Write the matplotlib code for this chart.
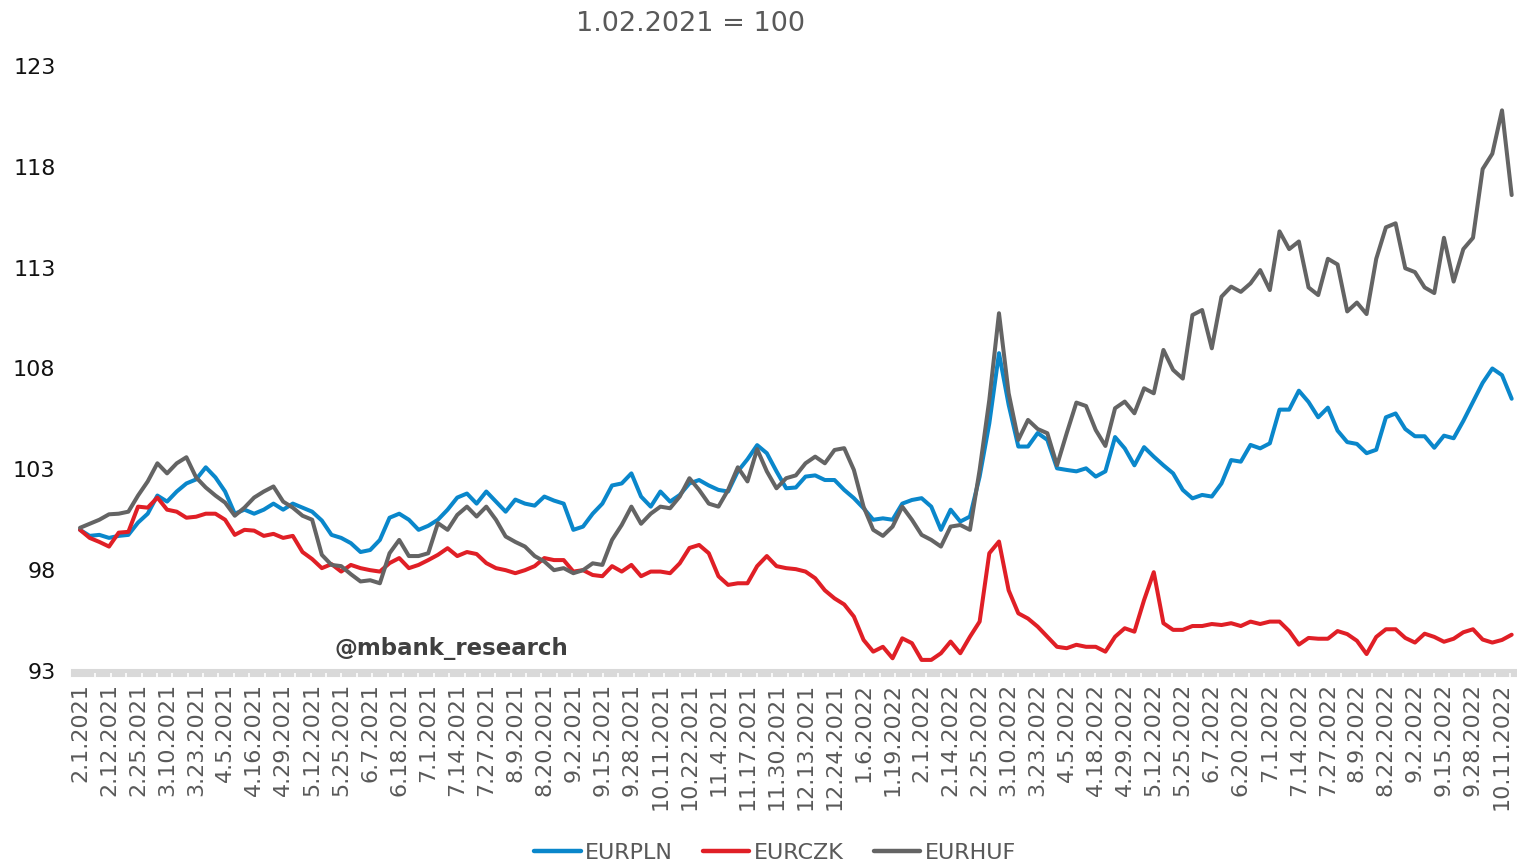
import numpy as np
import pandas as pd
import matplotlib
matplotlib.use("Agg")
import matplotlib.pyplot as plt
from matplotlib.ticker import FixedLocator

# ---------------- data (index 1.02.2021 = 100), sampled every 3rd business day ----------------
start_date = "2021-02-01"
n_days = 446
sample_step = 3
label_every = 9

eurpln = [
    100.0, 99.7, 99.75, 99.6, 99.7, 99.75, 100.36, 100.8, 101.7, 101.4,
    101.9, 102.3, 102.5, 103.1, 102.6, 101.9, 100.8, 101.0, 100.8, 101.0,
    101.3, 101.0, 101.3, 101.1, 100.9, 100.46, 99.75, 99.6, 99.34, 98.9,
    99.0, 99.5, 100.6, 100.8, 100.5, 100.0, 100.2, 100.5, 101.0, 101.6,
    101.8, 101.3, 101.9, 101.4, 100.9, 101.5, 101.3, 101.2, 101.65, 101.45,
    101.3, 100.0, 100.16, 100.8, 101.3, 102.2, 102.3, 102.8, 101.65, 101.15,
    101.9, 101.4, 101.73, 102.3, 102.47, 102.2, 101.98, 101.9, 102.9, 103.5,
    104.2, 103.8, 102.9, 102.06, 102.1, 102.64, 102.7, 102.47, 102.47, 101.98,
    101.57, 101.07, 100.5, 100.57, 100.5, 101.3, 101.48, 101.57, 101.15, 100.0,
    101.0, 100.41, 100.66, 102.64, 105.28, 108.76, 106.2, 104.13, 104.13, 104.8,
    104.46, 103.05, 102.97, 102.9, 103.05, 102.64, 102.9, 104.6, 104.04, 103.2,
    104.1, 103.63, 103.2, 102.8, 101.98, 101.56, 101.73, 101.65, 102.3, 103.46,
    103.38, 104.21, 104.04, 104.29, 105.96, 105.96, 106.9, 106.34, 105.58, 106.06,
    104.92, 104.35, 104.26, 103.8, 103.97, 105.58, 105.77, 105.0, 104.64, 104.64,
    104.07, 104.67, 104.54, 105.4, 106.34, 107.29, 108.0, 107.67, 106.5,
]

eurczk = [
    100.0, 99.6, 99.4, 99.17, 99.86, 99.9, 101.15, 101.1, 101.6, 101.0,
    100.9, 100.6, 100.65, 100.8, 100.8, 100.5, 99.75, 100.0, 99.96, 99.7,
    99.8, 99.6, 99.7, 98.9, 98.55, 98.1, 98.3, 97.93, 98.26, 98.1,
    98.0, 97.93, 98.35, 98.6, 98.1, 98.26, 98.5, 98.76, 99.09, 98.7,
    98.9, 98.8, 98.35, 98.1, 98.0, 97.85, 98.0, 98.2, 98.6, 98.5,
    98.5, 97.93, 98.0, 97.76, 97.7, 98.2, 97.93, 98.26, 97.7, 97.93,
    97.93, 97.85, 98.34, 99.1, 99.25, 98.84, 97.7, 97.27, 97.35, 97.35,
    98.2, 98.7, 98.2, 98.1, 98.05, 97.93, 97.6, 97.0, 96.6, 96.3,
    95.7, 94.54, 93.96, 94.2, 93.63, 94.62, 94.38, 93.55, 93.55, 93.88,
    94.46, 93.88, 94.7, 95.45, 98.84, 99.42, 97.0, 95.86, 95.6, 95.2,
    94.7, 94.2, 94.13, 94.3, 94.2, 94.2, 93.96, 94.7, 95.12, 94.95,
    96.52, 97.9, 95.37, 95.04, 95.04, 95.23, 95.23, 95.33, 95.28, 95.37,
    95.23, 95.45, 95.33, 95.45, 95.45, 94.98, 94.31, 94.64, 94.6, 94.6,
    94.98, 94.83, 94.5, 93.84, 94.69, 95.07, 95.07, 94.64, 94.41, 94.85,
    94.69, 94.45, 94.6, 94.92, 95.07, 94.56, 94.41, 94.54, 94.8,
]

eurhuf = [
    100.1, 100.3, 100.5, 100.77, 100.8, 100.9, 101.7, 102.4, 103.3, 102.8,
    103.3, 103.6, 102.6, 102.1, 101.7, 101.35, 100.7, 101.1, 101.6, 101.9,
    102.15, 101.4, 101.1, 100.7, 100.5, 98.76, 98.26, 98.2, 97.8, 97.44,
    97.5, 97.35, 98.84, 99.5, 98.7, 98.7, 98.84, 100.33, 100.0, 100.74,
    101.15, 100.66, 101.15, 100.5, 99.67, 99.4, 99.17, 98.7, 98.43, 98.0,
    98.1, 97.85, 98.0, 98.34, 98.26, 99.5, 100.24, 101.15, 100.3, 100.8,
    101.15, 101.07, 101.65, 102.56, 101.98, 101.3, 101.15, 101.98, 103.1, 102.4,
    104.0, 102.9, 102.06, 102.56, 102.7, 103.3, 103.63, 103.3, 103.96, 104.05,
    102.97, 101.15, 100.0, 99.7, 100.16, 101.15, 100.5, 99.75, 99.5, 99.17,
    100.16, 100.24, 100.0, 102.97, 106.44, 110.74, 106.77, 104.46, 105.45, 105.0,
    104.79, 103.2, 104.79, 106.31, 106.14, 104.95, 104.16, 106.03, 106.36, 105.78,
    107.02, 106.77, 108.92, 107.93, 107.5, 110.65, 110.9, 109.0, 111.56, 112.06,
    111.8, 112.22, 112.88, 111.89, 114.8, 113.92, 114.3, 112.02, 111.64, 113.44,
    113.16, 110.83, 111.27, 110.7, 113.44, 115.0, 115.2, 112.97, 112.78, 112.02,
    111.74, 114.48, 112.31, 113.92, 114.48, 117.89, 118.65, 120.8, 116.6,
]

series_names = ["EURPLN", "EURCZK", "EURHUF"]
series_colors = ["#0a87cb", "#e01f26", "#646464"]
y_ticks = [93, 98, 103, 108, 113, 118, 123]
title_text = "1.02.2021 = 100"
watermark = "@mbank_research"

# ---------------- derived axis categories ----------------
bdays = pd.bdate_range(start_date, periods=n_days)
day_pos = np.arange(n_days)
label_pos = day_pos[::label_every]
labels = [f"{d.month}.{d.day}.{d.year}" for d in bdays[::label_every]]

# ---------------- figure ----------------
W, H = 1517, 867
fig = plt.figure(figsize=(W / 100, H / 100), dpi=100)
ax = fig.add_axes([75 / W, 1 - 671 / H, (W - 75) / W, (671 - 66) / H])

for vals, name, col in zip([eurpln, eurczk, eurhuf], series_names, series_colors):
    x = day_pos[::sample_step][: len(vals)]
    ax.plot(x, vals, color=col, lw=2.9, label=name, solid_joinstyle="round",
            solid_capstyle="round")

ax.set_xlim(-1.55, 445.65)
ax.set_ylim(93, 123)

# y axis
ax.set_yticks(y_ticks)
ax.set_yticklabels([str(v) for v in y_ticks])
ax.tick_params(axis="y", length=0, pad=14, labelsize=16, labelcolor="#111111")

# x axis
ax.set_xticks(label_pos)
ax.set_xticklabels(labels)
ax.tick_params(axis="x", which="major", length=0, pad=7, labelsize=16,
               labelcolor="#595959", labelrotation=90)
ax.xaxis.set_minor_locator(FixedLocator(np.arange(0, n_days, 4.77)))
ax.tick_params(axis="x", which="minor", direction="out", length=3, width=1.2,
               color="white")
ax.xaxis.set_zorder(3)
for lab in ax.get_xticklabels():
    lab.set_rotation(90)
    lab.set_horizontalalignment("center")
    lab.set_verticalalignment("top")

for s in ["top", "right", "left"]:
    ax.spines[s].set_visible(False)
ax.spines["bottom"].set_color("#d9d9d9")
ax.spines["bottom"].set_linewidth(5.8)
ax.spines["bottom"].set_position(("outward", 1.5))

# title & watermark
fig.text(690 / W, 1 - 24 / H, title_text, ha="center", va="center",
         fontsize=19.5, color="#595959")
fig.text(451 / W, 1 - 648 / H, watermark, ha="center", va="center",
         fontsize=16.5, fontweight="bold", color="#404040")

# legend
leg = fig.legend(loc="center", bbox_to_anchor=(775 / W, 1 - 853 / H), ncol=3,
                 frameon=False, fontsize=16, handlelength=2.1, handletextpad=0.2,
                 columnspacing=1.35, labelcolor="#595959", borderpad=0)
for line in leg.get_lines():
    line.set_linewidth(3.2)

fig.savefig("out.png", dpi=100)
